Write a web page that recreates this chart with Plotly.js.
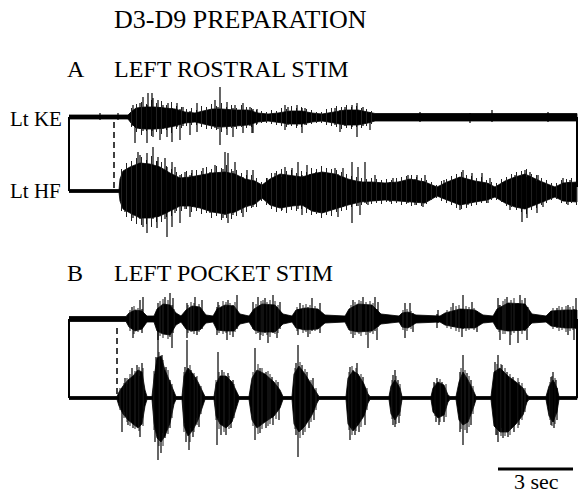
<!DOCTYPE html>
<html>
<head>
<meta charset="utf-8">
<script src="https://cdn.plot.ly/plotly-3.0.1.min.js"></script>
<style>
  html, body { margin: 0; padding: 0; background: #fff; }
  #chart { width: 578px; height: 495px; }
</style>
</head>
<body>
<div id="chart"></div>
<script>
// Extracellular recordings, D3-D9 preparation. Time in seconds from trace start,
// amplitudes in display units relative to each channel's baseline.
// Each channel: a burst envelope (hi / lo), large individual spikes, and
// the finer fringe of activity along the burst edges.

// ---- A: left rostral stim, Lt KE ----
const aKeT  = [0, 2.36, 2.48, 2.68, 3.04, 3.44, 3.84, 4.24, 4.64, 5.04, 5.36, 5.72, 6.12, 6.64, 7.16, 7.56, 7.96, 8.36, 8.84, 9.32, 9.72, 10.12, 10.60, 11.04, 11.56, 11.96, 12.24, 20.32];
const aKeHi = [2, 2, 5, 9, 10, 10, 9, 8, 5, 4, 6, 8, 8, 7, 7, 4, 3, 4, 6, 6, 4, 3, 5, 7, 7, 5, 3.5, 3.5];
const aKeLo = [-2, -2, -6, -11, -12, -12, -11, -9, -6, -5, -7, -9, -10, -9, -8, -5, -4, -5, -7, -7, -5, -4, -6, -8, -8, -6, -4, -4];
const aKeSpikeT  = [1.24, 1.96, 2.56, 2.64, 2.84, 2.96, 3.12, 3.16, 3.32, 3.36, 3.56, 3.64, 3.76, 3.92, 3.96, 4.12, 4.32, 4.44, 4.56, 4.84, 5.12, 5.84, 5.96, 6.04, 6.32, 6.56, 6.64, 6.96, 7.24, 7.32, 7.36, 7.52, 8.64, 8.76, 9.12, 9.32, 9.44, 10.64, 10.84, 11.04, 11.32, 11.52, 11.76, 12.04, 14.04, 16.04, 16.92, 19.16];
const aKeSpikeHi = [4, 4, 12, 8, 14, 20, 12, 24, 24, 19, 17, 10, 12, 9, 14, 9, 14, 8, 10, 6, 14, 17, 10, 30, 15, 9, 12, 14, 10, 7, 8, 8, 12, 10, 12, 9, 9, 9, 7, 10, 12, 14, 10, 5, 5, 4, 7, 5];
const aKeSpikeLo = [-3, -3, -9, -26, -12, -14, -26, -10, -14, -20, -12, -23, -12, -20, -10, -25, -10, -23, -9, -18, -15, -11, -12, -28, -18, -20, -10, -16, -9, -16, -16, -7, -13, -8, -9, -16, -8, -8, -15, -9, -10, -20, -9, -13, -5, -6, -5, -5];
const aKeFringeT  = [2.5, 2.7, 2.9, 3.1, 3.3, 3.5, 3.7, 3.9, 4.1, 4.3, 4.5, 4.7, 4.9, 5.1, 5.3, 5.5, 5.7, 5.9, 6.1, 6.3, 6.5, 6.7, 6.9, 7.1, 7.3, 7.5, 7.7, 7.9, 8.1, 8.3, 8.5, 8.7, 8.9, 9.1, 9.3, 9.5, 9.7, 9.9, 10.1, 10.3, 10.5, 10.7, 10.9, 11.1, 11.3, 11.5, 11.7, 11.9, 12.1];
const aKeFringeHi = [9, 13, 15, 13, 17, 14, 16, 12, 15, 11, 10, 8, 9, 7, 11, 10, 13, 11, 14, 10, 12, 9, 12, 10, 9, 7, 6, 5, 7, 6, 9, 8, 11, 9, 10, 8, 7, 5, 5, 8, 9, 11, 10, 12, 10, 11, 9, 8, 6];
const aKeFringeLo = [-10, -15, -18, -14, -19, -15, -17, -13, -16, -12, -11, -9, -8, -8, -10, -12, -12, -13, -15, -12, -11, -12, -10, -11, -10, -8, -6, -6, -7, -8, -9, -10, -9, -11, -10, -8, -7, -6, -6, -8, -9, -10, -12, -11, -12, -10, -11, -9, -7];

// ---- A: left rostral stim, Lt HF ----
const aHfT  = [0, 2.00, 2.04, 2.16, 2.44, 2.84, 3.24, 3.64, 4.04, 4.44, 4.84, 5.24, 5.72, 6.24, 6.64, 7.04, 7.44, 7.72, 8.04, 8.44, 8.92, 9.32, 9.72, 10.12, 10.64, 11.16, 11.64, 12.12, 12.64, 13.16, 13.64, 14.24, 14.72, 15.12, 15.64, 16.24, 16.72, 17.04, 17.44, 17.84, 18.24, 18.84, 19.44, 19.76, 20.32];
const aHfHi = [1.5, 1.5, 12, 20, 24, 28, 27, 24, 18, 13, 14, 16, 18, 19, 17, 12, 10, 6, 12, 17, 15, 14, 17, 19, 17, 12, 9, 9, 8, 9, 12, 9, 4, 9, 14, 10, 8, 4, 10, 14, 17, 10, 4, 8, 9];
const aHfLo = [-1.5, -1.5, -10, -18, -22, -27, -27, -25, -20, -15, -15, -17, -21, -23, -21, -16, -13, -7, -14, -17, -15, -14, -20, -22, -18, -14, -11, -10, -9, -10, -11, -12, -5, -9, -14, -11, -9, -6, -12, -16, -18, -12, -6, -10, -11];
const aHfSpikeT  = [2.24, 2.56, 2.76, 2.84, 2.96, 3.12, 3.36, 3.52, 3.56, 3.84, 3.92, 4.12, 4.24, 4.44, 4.64, 4.84, 4.92, 5.36, 5.64, 5.84, 6.16, 6.24, 6.36, 6.56, 6.64, 6.96, 7.12, 7.36, 7.92, 8.04, 8.24, 8.52, 8.64, 8.92, 9.16, 9.32, 9.52, 9.64, 9.88, 10.44, 10.64, 10.76, 10.96, 11.32, 11.56, 11.64, 11.84, 11.96, 12.24, 12.84, 12.96, 13.56, 13.84, 13.92, 14.16, 14.24, 15.00, 15.64, 15.76, 15.96, 16.12, 16.52, 16.76, 16.84, 17.64, 17.84, 18.12, 18.24, 18.32, 18.44, 18.72, 18.76, 18.96, 19.76, 19.96, 20.04];
const aHfSpikeHi = [20, 24, 39, 36, 28, 38, 44, 30, 34, 33, 24, 29, 24, 16, 19, 16, 21, 23, 19, 26, 22, 39, 38, 20, 29, 14, 21, 21, 13, 12, 18, 14, 24, 23, 29, 16, 26, 17, 19, 18, 23, 17, 23, 29, 24, 10, 29, 9, 16, 9, 13, 16, 12, 16, 10, 16, 11, 14, 21, 12, 18, 18, 8, 13, 12, 16, 15, 21, 14, 19, 10, 16, 8, 13, 9, 11];
const aHfSpikeLo = [-21, -27, -24, -28, -36, -42, -28, -37, -26, -28, -46, -36, -22, -32, -18, -26, -16, -18, -22, -20, -27, -24, -32, -24, -20, -26, -14, -16, -10, -14, -12, -19, -15, -15, -18, -24, -16, -19, -20, -17, -18, -26, -16, -32, -15, -24, -12, -14, -10, -11, -9, -12, -14, -10, -16, -11, -8, -19, -12, -14, -10, -10, -12, -8, -19, -14, -31, -18, -27, -15, -22, -10, -16, -10, -14, -9];
const aHfFringeT  = [2.1, 2.3, 2.5, 2.7, 2.9, 3.1, 3.3, 3.5, 3.7, 3.9, 4.1, 4.3, 4.5, 4.7, 4.9, 5.1, 5.3, 5.5, 5.7, 5.9, 6.1, 6.3, 6.5, 6.7, 6.9, 7.1, 7.3, 7.5, 7.7, 7.9, 8.1, 8.3, 8.5, 8.7, 8.9, 9.1, 9.3, 9.5, 9.7, 9.9, 10.1, 10.3, 10.5, 10.7, 10.9, 11.1, 11.3, 11.5, 11.7, 11.9, 12.1, 12.3, 12.5, 12.7, 12.9, 13.1, 13.3, 13.5, 13.7, 13.9, 14.1, 14.3, 14.5, 14.7, 14.9, 15.1, 15.3, 15.5, 15.7, 15.9, 16.1, 16.3, 16.5, 16.7, 16.9, 17.1, 17.3, 17.5, 17.7, 17.9, 18.1, 18.3, 18.5, 18.7, 18.9, 19.1, 19.3, 19.5, 19.7, 19.9, 20.1, 20.3];
const aHfFringeHi = [22, 28, 30, 33, 34, 31, 35, 30, 29, 25, 22, 19, 17, 20, 18, 21, 20, 24, 22, 25, 23, 26, 22, 21, 18, 16, 16, 13, 9, 13, 18, 20, 22, 20, 21, 18, 20, 19, 23, 22, 25, 23, 22, 21, 19, 17, 15, 14, 13, 12, 13, 12, 11, 12, 11, 13, 14, 15, 16, 14, 13, 11, 9, 6, 10, 12, 15, 17, 19, 16, 15, 13, 14, 11, 9, 8, 12, 14, 17, 19, 20, 22, 17, 16, 13, 11, 8, 8, 11, 12, 13, 12];
const aHfFringeLo = [-20, -26, -30, -33, -34, -33, -36, -31, -31, -26, -25, -20, -20, -18, -21, -20, -23, -22, -27, -25, -29, -27, -28, -25, -22, -21, -17, -16, -10, -14, -18, -21, -20, -22, -19, -20, -18, -22, -24, -23, -27, -24, -25, -21, -20, -19, -16, -15, -14, -13, -13, -12, -13, -11, -13, -12, -14, -13, -15, -14, -15, -13, -9, -7, -10, -12, -14, -17, -18, -17, -15, -14, -12, -12, -9, -9, -11, -15, -16, -19, -21, -23, -19, -17, -14, -12, -9, -8, -12, -13, -12, -14];

// ---- B: left pocket stim, Lt KE ----
const bKeT  = [0, 2.28, 2.40, 2.64, 2.92, 3.12, 3.40, 3.52, 3.76, 4.04, 4.28, 4.48, 4.68, 4.92, 5.24, 5.48, 5.76, 5.92, 6.24, 6.60, 6.84, 7.20, 7.40, 7.72, 8.24, 8.56, 8.92, 9.08, 9.44, 9.96, 10.24, 11.04, 11.20, 11.56, 12.12, 12.48, 13.20, 13.32, 13.56, 13.88, 14.84, 15.04, 15.64, 16.24, 16.56, 16.96, 17.12, 17.56, 18.24, 18.52, 19.08, 19.28, 19.84, 20.32];
const bKeHi = [2.5, 2.5, 6, 9, 8, 3, 3, 10, 15, 14, 6, 3, 9, 13, 12, 4, 3, 10, 14, 13, 5, 3, 10, 15, 14, 5, 3, 9, 11, 10, 4, 3, 10, 15, 14, 5, 3, 6, 7, 4, 3, 6, 10, 9, 4, 3, 10, 16, 15, 5, 3, 8, 9, 9];
const bKeLo = [-2.5, -2.5, -8, -12, -10, -3, -3, -12, -15, -16, -6, -3, -10, -12, -11, -4, -3, -11, -12, -12, -5, -3, -11, -13, -13, -5, -3, -9, -11, -10, -4, -3, -11, -13, -12, -5, -3, -8, -9, -4, -3, -6, -9, -9, -4, -3, -10, -12, -11, -4, -3, -7, -9, -9];
const bKeSpikeT  = [2.52, 2.56, 2.84, 2.92, 2.96, 3.56, 3.84, 4.04, 4.12, 4.16, 4.72, 5.04, 5.12, 5.32, 5.92, 5.96, 6.32, 6.36, 6.56, 6.72, 7.36, 7.56, 7.64, 7.84, 7.96, 8.16, 8.32, 8.44, 9.16, 9.24, 9.56, 9.72, 10.04, 11.36, 11.76, 11.96, 12.24, 12.32, 12.36, 13.44, 13.64, 13.76, 14.72, 14.76, 15.36, 15.72, 15.76, 16.12, 16.32, 17.16, 17.24, 17.52, 17.64, 17.96, 18.04, 18.24, 18.32, 19.52, 19.96, 20.20, 20.28];
const bKeSpikeHi = [12, 8, 19, 10, 22, 16, 22, 26, 14, 21, 16, 22, 12, 19, 12, 17, 12, 19, 14, 24, 17, 22, 14, 21, 14, 24, 12, 17, 10, 16, 12, 21, 16, 19, 22, 14, 22, 10, 17, 16, 16, 6, 5, 9, 16, 10, 24, 17, 8, 21, 14, 22, 14, 16, 24, 21, 12, 11, 14, 10, 21];
const bKeSpikeLo = [-10, -19, -10, -14, -8, -21, -15, -18, -29, -14, -19, -12, -16, -10, -16, -10, -21, -12, -18, -10, -10, -14, -21, -14, -24, -14, -19, -10, -16, -10, -18, -12, -14, -19, -12, -29, -12, -21, -8, -19, -8, -13, -9, -4, -8, -18, -10, -9, -13, -10, -21, -12, -26, -24, -12, -12, -21, -9, -16, -21, -10];
const bKeFringeT  = [2.44, 2.60, 2.76, 3.64, 3.76, 3.96, 4.20, 4.76, 4.88, 5.00, 5.20, 6.00, 6.16, 6.28, 6.44, 6.64, 7.48, 7.68, 7.76, 7.92, 8.04, 8.24, 8.36, 9.12, 9.36, 9.48, 9.64, 9.84, 11.28, 11.44, 11.60, 11.68, 11.88, 12.04, 12.16, 13.36, 13.52, 13.68, 15.12, 15.28, 15.48, 15.60, 15.88, 16.00, 16.20, 17.20, 17.36, 17.44, 17.68, 17.80, 18.12, 18.36, 19.36, 19.60, 19.72, 19.88, 20.04, 20.16];
const bKeFringeHi = [9, 13, 11, 18, 20, 19, 10, 14, 17, 16, 15, 14, 18, 17, 16, 17, 15, 18, 19, 17, 19, 18, 14, 12, 14, 15, 14, 13, 14, 17, 19, 18, 17, 18, 16, 9, 10, 8, 9, 12, 13, 14, 13, 12, 11, 14, 18, 20, 19, 21, 19, 12, 11, 13, 12, 13, 12, 13];
const bKeFringeLo = [-12, -15, -13, -17, -19, -20, -9, -14, -13, -15, -13, -14, -15, -14, -16, -13, -15, -16, -17, -16, -18, -15, -14, -12, -14, -13, -15, -12, -15, -16, -15, -17, -16, -14, -15, -11, -12, -10, -9, -10, -12, -13, -12, -11, -11, -13, -15, -15, -16, -14, -15, -9, -10, -12, -11, -13, -12, -11];

// ---- B: left pocket stim, Lt HF ----
const bHfT  = [0, 1.92, 2.00, 2.16, 2.36, 2.56, 2.76, 2.92, 3.04, 3.12, 3.32, 3.40, 3.52, 3.68, 3.84, 4.04, 4.20, 4.28, 4.52, 4.60, 4.76, 4.96, 5.16, 5.36, 5.44, 5.80, 5.88, 6.04, 6.28, 6.52, 6.72, 6.80, 7.20, 7.32, 7.52, 7.84, 8.20, 8.44, 8.56, 8.92, 9.00, 9.20, 9.44, 9.72, 9.92, 10.00, 11.08, 11.16, 11.36, 11.56, 11.80, 11.96, 12.04, 12.80, 12.88, 13.04, 13.24, 13.32, 14.48, 14.56, 14.76, 15.00, 15.16, 15.24, 15.48, 15.60, 15.76, 15.96, 16.20, 16.28, 16.88, 17.00, 17.24, 17.56, 17.88, 18.16, 18.32, 18.40, 19.08, 19.20, 19.36, 19.52, 19.60, 20.32];
const bHfHi = [1.5, 1.5, 6, 12, 18, 22, 28, 26, 8, 1.5, 1.5, 20, 40, 42, 28, 16, 5, 1.5, 1.5, 22, 30, 24, 16, 6, 1.5, 1.5, 14, 22, 22, 16, 6, 1.5, 1.5, 20, 28, 24, 16, 8, 1.5, 1.5, 24, 32, 24, 13, 4, 1.5, 1.5, 20, 27, 24, 14, 4, 1.5, 1.5, 12, 18, 10, 1.5, 1.5, 10, 16, 13, 3, 1.5, 1.5, 16, 26, 18, 6, 1.5, 1.5, 26, 30, 22, 16, 10, 3, 1.5, 1.5, 12, 18, 10, 1.5, 1.5];
const bHfLo = [-1.5, -1.5, -8, -16, -22, -26, -30, -26, -8, -1.5, -1.5, -25, -40, -44, -38, -25, -6, -1.5, -1.5, -28, -38, -32, -22, -8, -1.5, -1.5, -18, -26, -30, -24, -8, -1.5, -1.5, -22, -30, -24, -18, -10, -1.5, -1.5, -26, -34, -28, -17, -5, -1.5, -1.5, -26, -33, -27, -18, -5, -1.5, -1.5, -16, -22, -14, -1.5, -1.5, -14, -20, -17, -4, -1.5, -1.5, -22, -27, -24, -8, -1.5, -1.5, -28, -34, -34, -26, -17, -4, -1.5, -1.5, -18, -24, -14, -1.5, -1.5];
const bHfSpikeT  = [2.12, 2.24, 2.36, 2.52, 2.56, 2.72, 2.84, 2.92, 3.44, 3.48, 3.56, 3.68, 3.72, 3.84, 3.88, 4.04, 4.64, 4.68, 4.72, 4.80, 4.88, 4.96, 5.08, 5.20, 5.92, 5.96, 6.08, 6.12, 6.28, 6.36, 6.48, 6.56, 7.44, 7.64, 7.88, 8.12, 8.16, 8.36, 8.40, 9.08, 9.16, 9.32, 9.36, 9.52, 9.60, 9.76, 9.80, 11.24, 11.36, 11.44, 11.52, 11.60, 11.76, 11.84, 12.96, 13.04, 13.16, 13.20, 14.60, 14.68, 14.72, 14.80, 14.92, 15.00, 15.64, 15.76, 15.92, 16.08, 17.04, 17.08, 17.16, 17.32, 17.36, 17.52, 17.56, 17.76, 17.80, 18.00, 19.28, 19.36, 19.40, 19.48, 19.52];
const bHfSpikeHi = [10, 20, 14, 30, 18, 33, 22, 35, 24, 41, 73, 30, 43, 22, 31, 18, 31, 20, 58, 25, 28, 18, 21, 12, 16, 46, 18, 28, 18, 25, 12, 18, 50, 30, 26, 21, 12, 16, 8, 35, 53, 33, 20, 26, 15, 20, 8, 31, 28, 18, 35, 15, 21, 10, 23, 28, 18, 10, 16, 12, 20, 14, 16, 10, 26, 43, 25, 18, 36, 26, 43, 33, 24, 26, 20, 21, 16, 16, 21, 26, 16, 18, 10];
const bHfSpikeLo = [-34, -14, -27, -20, -30, -24, -39, -20, -44, -30, -62, -55, -35, -40, -25, -30, -25, -44, -30, -52, -30, -39, -20, -29, -47, -20, -37, -20, -37, -22, -30, -18, -42, -35, -30, -20, -27, -12, -22, -37, -59, -28, -37, -24, -30, -14, -22, -42, -30, -37, -25, -34, -16, -27, -27, -29, -15, -25, -12, -24, -14, -27, -15, -24, -34, -47, -35, -27, -28, -37, -44, -30, -40, -33, -39, -28, -34, -27, -27, -24, -30, -15, -22];
const bHfFringeT  = [2.04, 2.20, 2.32, 2.44, 2.64, 2.80, 2.96, 3.40, 3.60, 3.76, 3.96, 4.12, 4.60, 4.84, 5.00, 5.12, 5.28, 5.88, 6.00, 6.20, 6.40, 6.60, 7.36, 7.56, 7.72, 7.96, 8.04, 8.28, 9.04, 9.24, 9.44, 9.68, 9.88, 11.20, 11.32, 11.48, 11.68, 11.92, 12.92, 13.08, 13.24, 14.64, 14.84, 15.08, 15.68, 15.84, 16.00, 16.16, 17.12, 17.28, 17.44, 17.64, 17.96, 18.12, 18.24, 19.24, 19.32, 19.44];
const bHfFringeHi = [10, 15, 20, 24, 27, 31, 30, 27, 46, 38, 28, 14, 26, 33, 25, 22, 12, 18, 26, 26, 22, 14, 26, 34, 30, 27, 24, 18, 30, 36, 29, 18, 10, 26, 32, 30, 24, 10, 18, 22, 14, 15, 19, 14, 30, 28, 22, 12, 34, 34, 30, 24, 20, 15, 10, 16, 22, 20];
const bHfFringeLo = [-12, -20, -24, -28, -31, -33, -28, -32, -48, -48, -36, -20, -34, -44, -34, -27, -16, -22, -31, -34, -31, -20, -28, -36, -31, -28, -26, -21, -31, -40, -34, -24, -12, -32, -37, -33, -29, -12, -21, -26, -18, -18, -24, -19, -31, -32, -29, -16, -37, -38, -38, -37, -30, -22, -14, -22, -28, -26];

// Stimulus onset (s), recording end (s), scale bar length (s)
const stimA = 1.80;
const stimB = 1.92;
const traceEnd = 20.32;
const scaleBarSec = 3;

// ---- drawing ----
const INK = '#000';
const W = 578, H = 495;
// channel baselines on the vertical display axis
const BASE = { aKe: -117, aHf: -191, bKe: -319, bHf: -398 };

function envelope(t, hi, lo, base) {
  const up = hi.map(v => base + v);
  const dn = lo.map(v => base + v);
  return {
    type: 'scatter', mode: 'lines', hoverinfo: 'skip',
    x: t.concat(t.slice().reverse()),
    y: up.concat(dn.slice().reverse()),
    fill: 'toself', fillcolor: INK,
    line: { color: INK, width: 0.8 }
  };
}

function ticks(t, hi, lo, base, color, width) {
  const x = [], y = [];
  t.forEach((tt, i) => {
    x.push(tt, tt, null);
    y.push(base + hi[i], base + lo[i], null);
  });
  return {
    type: 'scatter', mode: 'lines', hoverinfo: 'skip',
    x, y, connectgaps: false,
    line: { color: color, width: width }
  };
}

const traces = [
  envelope(aKeT, aKeHi, aKeLo, BASE.aKe),
  ticks(aKeFringeT, aKeFringeHi, aKeFringeLo, BASE.aKe, '#222', 1),
  ticks(aKeSpikeT, aKeSpikeHi, aKeSpikeLo, BASE.aKe, INK, 1.2),
  envelope(aHfT, aHfHi, aHfLo, BASE.aHf),
  ticks(aHfFringeT, aHfFringeHi, aHfFringeLo, BASE.aHf, '#222', 1),
  ticks(aHfSpikeT, aHfSpikeHi, aHfSpikeLo, BASE.aHf, INK, 1.2),
  envelope(bKeT, bKeHi, bKeLo, BASE.bKe),
  ticks(bKeFringeT, bKeFringeHi, bKeFringeLo, BASE.bKe, '#222', 1),
  ticks(bKeSpikeT, bKeSpikeHi, bKeSpikeLo, BASE.bKe, INK, 1.2),
  envelope(bHfT, bHfHi, bHfLo, BASE.bHf),
  ticks(bHfFringeT, bHfFringeHi, bHfFringeLo, BASE.bHf, '#222', 1),
  ticks(bHfSpikeT, bHfSpikeHi, bHfSpikeLo, BASE.bHf, INK, 1.2)
];

function vline(x, y0, y1, width, dash) {
  return { type: 'line', xref: 'x', yref: 'y', x0: x, x1: x, y0: y0, y1: y1,
           line: { color: INK, width: width, dash: dash || 'solid' } };
}

const shapes = [
  // channel pair brackets at both ends of each recording
  vline(0, BASE.aKe, BASE.aHf, 2), vline(traceEnd, BASE.aKe, BASE.aHf + 4, 2),
  vline(0, BASE.bKe, BASE.bHf, 2), vline(traceEnd, BASE.bKe, BASE.bHf, 2),
  // stimulus markers
  vline(stimA, BASE.aKe - 5, BASE.aHf, 1.5, '6px,4px'),
  vline(stimB, BASE.bKe - 9, BASE.bHf, 1.5, '6px,4px'),
  // time scale bar
  { type: 'line', xref: 'x', yref: 'y', x0: 17.16, x1: 17.16 + scaleBarSec, y0: -469, y1: -469,
    line: { color: INK, width: 3 } }
];

const FONT = 'Liberation Serif, Times New Roman, serif';
function label(text, px, py, size, anchor, vanchor) {
  return { text: text, xref: 'paper', yref: 'paper', x: px / W, y: 1 - py / H,
           xanchor: anchor || 'left', yanchor: vanchor || 'middle', showarrow: false,
           borderpad: 0, font: { family: FONT, size: size, color: INK } };
}

const annotations = [
  label('D3-D9 PREPARATION', 113, 19, 26),
  label('A', 66, 69, 24),
  label('LEFT ROSTRAL STIM', 113, 69, 24),
  label('Lt KE', 63, 119, 21, 'right'),
  label('Lt HF', 62, 191, 21, 'right'),
  label('B', 66, 273, 24),
  label('LEFT POCKET STIM', 113, 273, 24),
  label('3 sec', 536, 495, 22, 'center', 'bottom')
];

const layout = {
  width: W, height: H,
  margin: { l: 0, r: 0, t: 0, b: 0 },
  paper_bgcolor: '#fff', plot_bgcolor: '#fff',
  showlegend: false,
  xaxis: { range: [-2.76, 20.36], visible: false, fixedrange: true },
  yaxis: { range: [-495, 0], visible: false, fixedrange: true },
  shapes: shapes,
  annotations: annotations
};

Plotly.newPlot('chart', traces, layout, { staticPlot: true, displayModeBar: false });
</script>
</body>
</html>
